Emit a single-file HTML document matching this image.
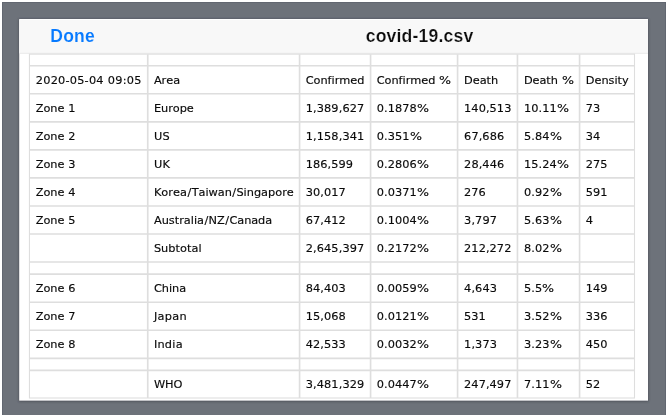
<!DOCTYPE html>
<html lang="en">
<head>
<meta charset="utf-8">
<title>covid-19.csv</title>
<style>
html,body{margin:0;padding:0;background:#fff;}
body{width:668px;height:415px;overflow:hidden;position:relative;font-family:"DejaVu Sans","Liberation Sans",sans-serif;}
.done{position:absolute;left:50.3px;top:26px;height:20px;font:bold 17.5px/20px "Liberation Sans",sans-serif;color:#077aff;letter-spacing:.25px;white-space:nowrap;-webkit-text-stroke:.1px #f8f8f8}
.title{position:absolute;left:365.7px;top:26px;height:20px;font:bold 17.6px/20px "Liberation Sans",sans-serif;color:#0c0c0c;letter-spacing:.18px;white-space:nowrap;-webkit-text-stroke:.2px #f8f8f8}
svg.grid{position:absolute;left:0;top:0;width:668px;height:415px;}
svg.grid .lines line{stroke:#dedede;stroke-width:1.65;}
svg.grid .lines .outer{fill:none;stroke:#dedede;stroke-width:1.1;}
.p{display:inline-block;transform:scaleX(1.12);transform-origin:0 50%;}
.s{margin-left:.4px;letter-spacing:.4px;}
.r{position:absolute;left:0;width:668px;height:20px;}
.c{position:absolute;top:0;font-size:11.33px;line-height:20px;height:20px;color:#0a0a0a;white-space:nowrap;font-kerning:none;word-spacing:0.39px;-webkit-text-stroke:.15px #0a0a0a;}
</style>
</head>
<body>
<svg class="grid" viewBox="0 0 668 415">
<defs><filter id="sh" x="-5%" y="-5%" width="110%" height="110%"><feGaussianBlur stdDeviation="0.9"/></filter></defs>
<rect x="2" y="2" width="664" height="413" fill="#6d727a"/>
<rect x="2.5" y="2.5" width="663" height="413" fill="none" stroke="#5a5f69" stroke-opacity=".55" stroke-width="1"/>
<rect x="18.6" y="18.9" width="630" height="382.8" fill="#30343c" fill-opacity=".5" filter="url(#sh)"/>
<rect x="19.2" y="19" width="628.8" height="381.65" fill="#fff"/>
<rect x="19.2" y="19.9" width="628.8" height="33.4" fill="#f8f8f8"/>
<rect x="19.2" y="52.85" width="628.8" height="0.8" fill="#e5e5e5"/>
<g class="lines">
<line x1="147.74" y1="54.15" x2="147.74" y2="398.00"/>
<line x1="299.57" y1="54.15" x2="299.57" y2="398.00"/>
<line x1="370.57" y1="54.15" x2="370.57" y2="398.00"/>
<line x1="457.57" y1="54.15" x2="457.57" y2="398.00"/>
<line x1="517.45" y1="54.15" x2="517.45" y2="398.00"/>
<line x1="579.57" y1="54.15" x2="579.57" y2="398.00"/>
<line x1="29.45" y1="65.75" x2="634.50" y2="65.75"/>
<line x1="29.45" y1="93.79" x2="634.50" y2="93.79"/>
<line x1="29.45" y1="121.83" x2="634.50" y2="121.83"/>
<line x1="29.45" y1="149.87" x2="634.50" y2="149.87"/>
<line x1="29.45" y1="177.91" x2="634.50" y2="177.91"/>
<line x1="29.45" y1="205.95" x2="634.50" y2="205.95"/>
<line x1="29.45" y1="233.99" x2="634.50" y2="233.99"/>
<line x1="29.45" y1="262.03" x2="634.50" y2="262.03"/>
<line x1="29.45" y1="274.18" x2="634.50" y2="274.18"/>
<line x1="29.45" y1="302.22" x2="634.50" y2="302.22"/>
<line x1="29.45" y1="330.26" x2="634.50" y2="330.26"/>
<line x1="29.45" y1="358.30" x2="634.50" y2="358.30"/>
<line x1="29.45" y1="370.40" x2="634.50" y2="370.40"/>
<rect class="outer" x="29.45" y="54.15" width="605.05" height="343.85"/>
</g>
</svg>
<div class="done">Done</div>
<div class="title">covid-19.csv</div>
<div class="table">
<div class="r" style="top:70px"><div class="c" style="left:35.8px"><span style="letter-spacing:0.21px">2020-05-04</span> <span style="letter-spacing:0.26px">09:05</span></div><div class="c" style="left:153.9px"><span style="letter-spacing:-0.04px">Area</span></div><div class="c" style="left:305.7px"><span style="letter-spacing:-0.03px">Confirmed</span></div><div class="c" style="left:376.7px"><span style="letter-spacing:-0.03px">Confirmed</span> <span class="p">%</span></div><div class="c" style="left:464.1px"><span style="letter-spacing:-0.07px">Death</span></div><div class="c" style="left:523.9px"><span style="letter-spacing:-0.07px">Death</span> <span class="p">%</span></div><div class="c" style="left:585.8px"><span style="letter-spacing:-0.03px">Density</span></div></div>
<div class="r" style="top:98px"><div class="c" style="left:35.8px"><span style="letter-spacing:-0.07px">Zone</span> 1</div><div class="c" style="left:153.9px"><span style="letter-spacing:-0.04px">Europe</span></div><div class="c" style="left:305.7px"><span style="letter-spacing:0.11px">1,389,627</span></div><div class="c" style="left:376.7px"><span style="letter-spacing:0.08px">0.1878</span><span class="p">%</span></div><div class="c" style="left:464.1px"><span style="letter-spacing:0.07px">140,513</span></div><div class="c" style="left:523.9px"><span style="letter-spacing:0.10px">10.11</span><span class="p">%</span></div><div class="c" style="left:585.8px">73</div></div>
<div class="r" style="top:126px"><div class="c" style="left:35.8px"><span style="letter-spacing:-0.07px">Zone</span> 2</div><div class="c" style="left:153.9px"><span style="letter-spacing:0.28px">US</span></div><div class="c" style="left:305.7px"><span style="letter-spacing:0.11px">1,158,341</span></div><div class="c" style="left:376.7px"><span style="letter-spacing:0.10px">0.351</span><span class="p">%</span></div><div class="c" style="left:464.1px"><span style="letter-spacing:0.08px">67,686</span></div><div class="c" style="left:523.9px"><span style="letter-spacing:0.13px">5.84</span><span class="p">%</span></div><div class="c" style="left:585.8px">34</div></div>
<div class="r" style="top:154px"><div class="c" style="left:35.8px"><span style="letter-spacing:-0.07px">Zone</span> 3</div><div class="c" style="left:153.9px"><span style="letter-spacing:0.21px">UK</span></div><div class="c" style="left:305.7px"><span style="letter-spacing:0.07px">186,599</span></div><div class="c" style="left:376.7px"><span style="letter-spacing:0.08px">0.2806</span><span class="p">%</span></div><div class="c" style="left:464.1px"><span style="letter-spacing:0.08px">28,446</span></div><div class="c" style="left:523.9px"><span style="letter-spacing:0.10px">15.24</span><span class="p">%</span></div><div class="c" style="left:585.8px">275</div></div>
<div class="r" style="top:182px"><div class="c" style="left:35.8px"><span style="letter-spacing:-0.07px">Zone</span> 4</div><div class="c" style="left:153.9px"><span style="letter-spacing:0.04px">Korea</span><span class="s">/</span><span style="letter-spacing:-0.04px">Taiwan</span><span class="s">/</span>Singapore</div><div class="c" style="left:305.7px"><span style="letter-spacing:0.08px">30,017</span></div><div class="c" style="left:376.7px"><span style="letter-spacing:0.08px">0.0371</span><span class="p">%</span></div><div class="c" style="left:464.1px">276</div><div class="c" style="left:523.9px"><span style="letter-spacing:0.13px">0.92</span><span class="p">%</span></div><div class="c" style="left:585.8px">591</div></div>
<div class="r" style="top:210px"><div class="c" style="left:35.8px"><span style="letter-spacing:-0.07px">Zone</span> 5</div><div class="c" style="left:153.9px">Australia<span class="s">/</span>NZ<span class="s">/</span><span style="letter-spacing:-0.09px">Canada</span></div><div class="c" style="left:305.7px"><span style="letter-spacing:0.08px">67,412</span></div><div class="c" style="left:376.7px"><span style="letter-spacing:0.08px">0.1004</span><span class="p">%</span></div><div class="c" style="left:464.1px"><span style="letter-spacing:0.10px">3,797</span></div><div class="c" style="left:523.9px"><span style="letter-spacing:0.13px">5.63</span><span class="p">%</span></div><div class="c" style="left:585.8px">4</div></div>
<div class="r" style="top:238px"><div class="c" style="left:153.9px"><span style="letter-spacing:0.03px">Subtotal</span></div><div class="c" style="left:305.7px"><span style="letter-spacing:0.11px">2,645,397</span></div><div class="c" style="left:376.7px"><span style="letter-spacing:0.08px">0.2172</span><span class="p">%</span></div><div class="c" style="left:464.1px"><span style="letter-spacing:0.07px">212,272</span></div><div class="c" style="left:523.9px"><span style="letter-spacing:0.13px">8.02</span><span class="p">%</span></div></div>
<div class="r" style="top:278px"><div class="c" style="left:35.8px"><span style="letter-spacing:-0.07px">Zone</span> 6</div><div class="c" style="left:153.9px"><span style="letter-spacing:-0.04px">China</span></div><div class="c" style="left:305.7px"><span style="letter-spacing:0.08px">84,403</span></div><div class="c" style="left:376.7px"><span style="letter-spacing:0.08px">0.0059</span><span class="p">%</span></div><div class="c" style="left:464.1px"><span style="letter-spacing:0.10px">4,643</span></div><div class="c" style="left:523.9px"><span style="letter-spacing:0.17px">5.5</span><span class="p">%</span></div><div class="c" style="left:585.8px">149</div></div>
<div class="r" style="top:306px"><div class="c" style="left:35.8px"><span style="letter-spacing:-0.07px">Zone</span> 7</div><div class="c" style="left:153.9px"><span style="letter-spacing:0.28px">Japan</span></div><div class="c" style="left:305.7px"><span style="letter-spacing:0.08px">15,068</span></div><div class="c" style="left:376.7px"><span style="letter-spacing:0.08px">0.0121</span><span class="p">%</span></div><div class="c" style="left:464.1px">531</div><div class="c" style="left:523.9px"><span style="letter-spacing:0.13px">3.52</span><span class="p">%</span></div><div class="c" style="left:585.8px">336</div></div>
<div class="r" style="top:334px"><div class="c" style="left:35.8px"><span style="letter-spacing:-0.07px">Zone</span> 8</div><div class="c" style="left:153.9px"><span style="letter-spacing:0.22px">India</span></div><div class="c" style="left:305.7px"><span style="letter-spacing:0.08px">42,533</span></div><div class="c" style="left:376.7px"><span style="letter-spacing:0.08px">0.0032</span><span class="p">%</span></div><div class="c" style="left:464.1px"><span style="letter-spacing:0.10px">1,373</span></div><div class="c" style="left:523.9px"><span style="letter-spacing:0.13px">3.23</span><span class="p">%</span></div><div class="c" style="left:585.8px">450</div></div>
<div class="r" style="top:374px"><div class="c" style="left:153.9px">WHO</div><div class="c" style="left:305.7px"><span style="letter-spacing:0.11px">3,481,329</span></div><div class="c" style="left:376.7px"><span style="letter-spacing:0.08px">0.0447</span><span class="p">%</span></div><div class="c" style="left:464.1px"><span style="letter-spacing:0.07px">247,497</span></div><div class="c" style="left:523.9px"><span style="letter-spacing:0.13px">7.11</span><span class="p">%</span></div><div class="c" style="left:585.8px">52</div></div>
</div>
</body>
</html>
